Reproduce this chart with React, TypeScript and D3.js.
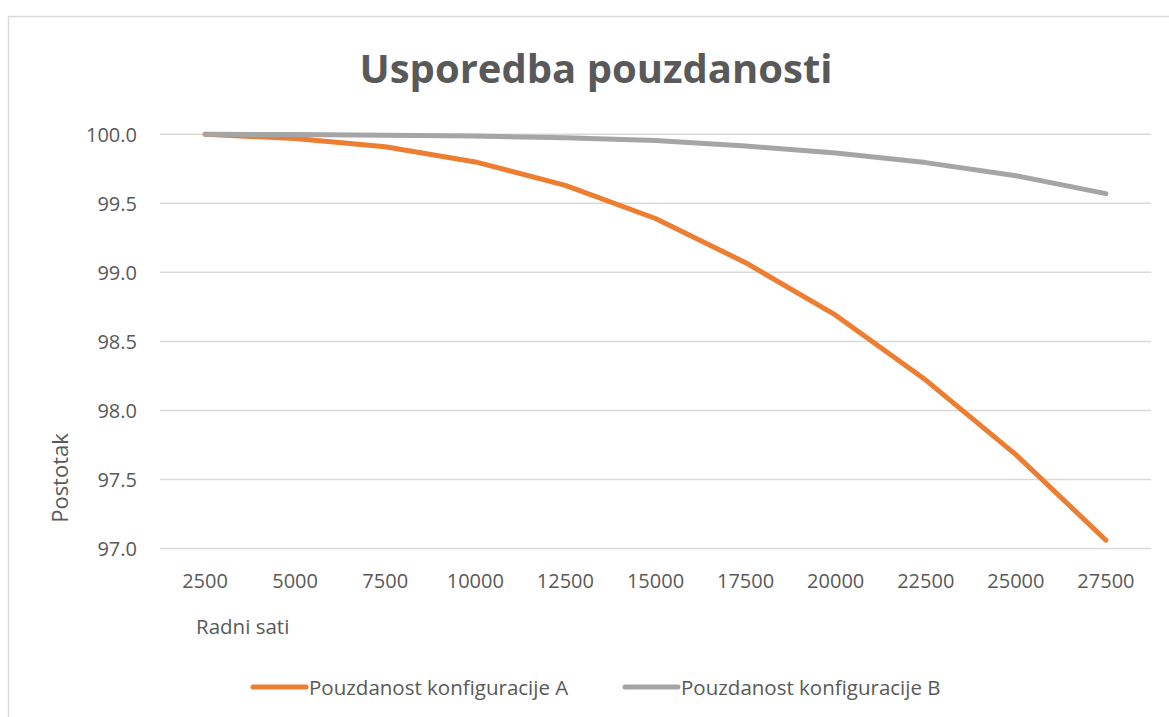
import React from "react";
import * as d3 from "d3";

const categories = ["2500", "5000", "7500", "10000", "12500", "15000", "17500", "20000", "22500", "25000", "27500"];
const seriesA = [100.0, 99.97, 99.91, 99.8, 99.63, 99.39, 99.07, 98.69, 98.22, 97.68, 97.06];
const seriesB = [100.0, 99.998, 99.994, 99.987, 99.975, 99.955, 99.915, 99.865, 99.795, 99.7, 99.57];
const yTicks = [97.0, 97.5, 98.0, 98.5, 99.0, 99.5, 100.0];
const seriesNames = ["Pouzdanost konfiguracije A", "Pouzdanost konfiguracije B"];
const title = "Usporedba pouzdanosti";
const xTitle = "Radni sati";
const yTitle = "Postotak";

const W = 1169;
const H = 717;
const FONT = "'Open Sans', sans-serif";
const TEXT = "#595959";
const COLORS = ["#ED7D31", "#A5A5A5"];

export default function App() {
  const x = d3.scaleBand<string>().domain(categories).range([160, 1151]).padding(0);
  const y = d3.scaleLinear().domain([97, 100]).range([548.5, 134.3]);
  const cx = (c: string) => (x(c) as number) + x.bandwidth() / 2;

  const line = d3
    .line<number>()
    .x((_, i) => cx(categories[i]))
    .y((v) => y(v));

  const series = [seriesA, seriesB];

  return (
    <svg
      width={W}
      height={H}
      style={{ position: "fixed", left: 0, top: 0, background: "#fff" }}
      fontFamily={FONT}
    >
      <rect x={0} y={0} width={W} height={H} fill="#fff" />
      <rect x={8.5} y={16.5} width={1300} height={900} fill="#fff" stroke="#d9d9d9" strokeWidth={1.5} />
      <text x={596} y={83} textAnchor="middle" fontSize={40} fontWeight={700} fill={TEXT}>
        {title}
      </text>
      {yTicks.map((t) => (
        <g key={t}>
          <line x1={160} x2={1151} y1={y(t)} y2={y(t)} stroke="#d9d9d9" strokeWidth={1.5} />
          <text x={137} y={y(t)} textAnchor="end" dominantBaseline="central" fontSize={20} fill={TEXT}>
            {t.toFixed(1)}
          </text>
        </g>
      ))}
      {categories.map((c) => (
        <text key={c} x={cx(c)} y={580} textAnchor="middle" dominantBaseline="central" fontSize={20} fill={TEXT}>
          {c}
        </text>
      ))}
      <text x={196} y={626} dominantBaseline="central" fontSize={20.5} fill={TEXT}>
        {xTitle}
      </text>
      <text
        transform={`translate(59,478) rotate(-90)`}
        textAnchor="middle"
        dominantBaseline="central"
        fontSize={22}
        fill={TEXT}
      >
        {yTitle}
      </text>
      {series.map((s, i) => (
        <path
          key={i}
          d={line(s) as string}
          fill="none"
          stroke={COLORS[i]}
          strokeWidth={5}
          strokeLinecap="round"
          strokeLinejoin="round"
        />
      ))}
      {seriesNames.map((n, i) => {
        const lx = [253, 625][i];
        return (
          <g key={n}>
            <line x1={lx} x2={lx + 53} y1={687} y2={687} stroke={COLORS[i]} strokeWidth={5} strokeLinecap="round" />
            <text x={lx + 56} y={687} dominantBaseline="central" fontSize={20.5} fill={TEXT}>
              {n}
            </text>
          </g>
        );
      })}
    </svg>
  );
}
